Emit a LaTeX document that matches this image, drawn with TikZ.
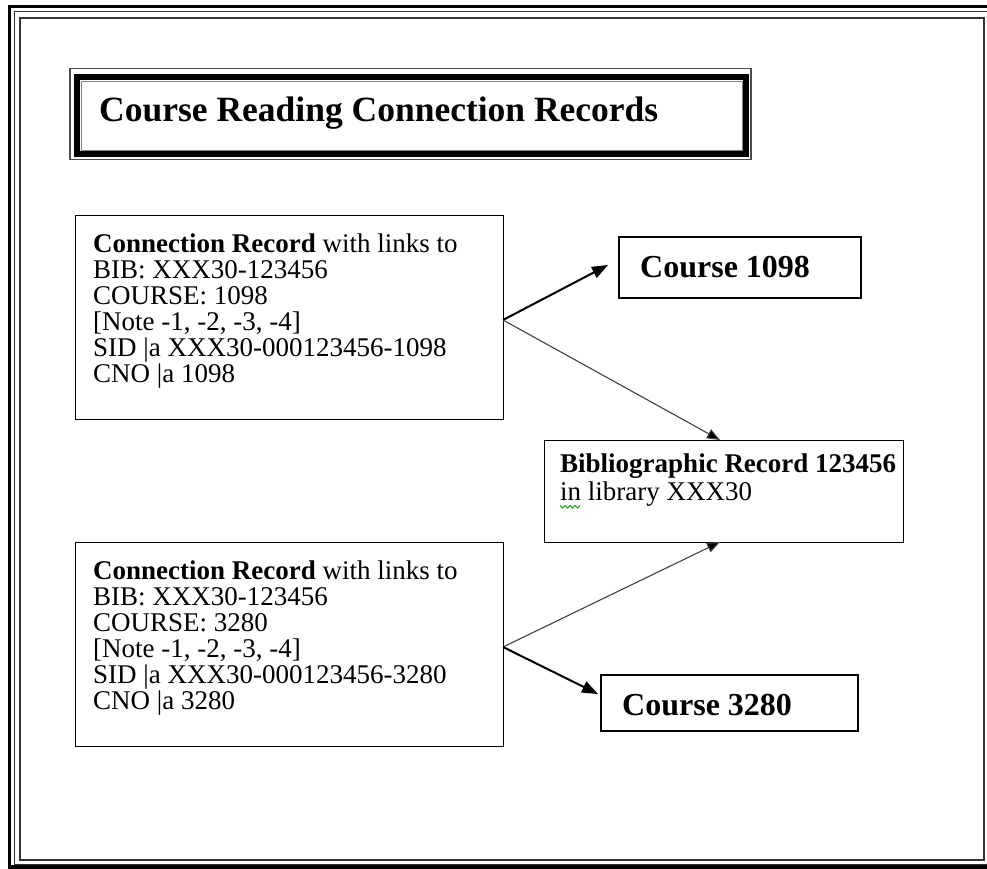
\documentclass[tikz,border=0pt]{standalone}
\usepackage{fontspec}
\setmainfont{Liberation Serif}
\usetikzlibrary{arrows.meta}
\begin{document}
\begin{tikzpicture}[x=1pt,y=-1pt,
  rec/.style={draw=black, line width=1.3pt, inner sep=0pt, anchor=north west},
  body/.style={anchor=north west, inner sep=0pt, align=left, font=\fontsize{27}{26}\selectfont},
  crs/.style={anchor=base west, inner sep=0pt, font=\fontsize{32}{32}\selectfont\bfseries},
  strong/.style={line width=2pt, -{Triangle[length=16pt,width=12pt]}},
  soft/.style={draw=black!75, line width=1.1pt, -{Triangle[length=13pt,width=10pt,fill=black]}},
]
\useasboundingbox (0,0) rectangle (987,868);
\fill[white] (0,0) rectangle (987,868);
% outer frame
\draw[line width=3.5pt] (9.5,6.5) rectangle (995,867);
\draw[line width=1.3pt, black!80] (14.5,11.5) rectangle (990,864.5);
\draw[line width=1.6pt, black!80] (20,18) rectangle (984,860);
% title frame
\draw[line width=1.2pt, black!70] (70,68.5) rectangle (751,159.5);
\draw[line width=6.5pt] (77,77) rectangle (746,154);
\draw[line width=0.8pt, black!50] (81,81) rectangle (742,150);
\node[anchor=base west, inner sep=0pt, font=\fontsize{35.5}{35.5}\selectfont\bfseries] (title) at (99,121) {Course Reading Connection Records};
% connection record 1
\node[rec, minimum width=428pt, minimum height=204pt] (b1) at (75,215) {};
\node[body] (b1t) at (93,233.5) {\textbf{Connection Record} with links to\\BIB: XXX30-123456\\COURSE: 1098\\{[Note -1, -2, -3, -4]}\\SID |a XXX30-000123456-1098\\CNO |a 1098};
% course 1098
\node[rec, line width=1.8pt, minimum width=242pt, minimum height=61pt] (c1) at (618,236) {};
\node[crs] (c1t) at (640,277) {Course 1098};
% bibliographic record
\node[rec, minimum width=359pt, minimum height=102pt] (bib) at (544,440) {};
\node[anchor=base west, inner sep=0pt, font=\fontsize{27}{27}\selectfont\bfseries] (bibt) at (560,472) {Bibliographic Record 123456};
\node[anchor=base west, inner sep=0pt, font=\fontsize{27}{27}\selectfont] (bibl) at (560,500) {in library XXX30};
\draw[green!60!black, line width=0.8pt] (560,505.5) \foreach \i in {1,...,4} { -- ++(2.5,2.5) -- ++(2.5,-2.5) };
% connection record 2
\node[rec, minimum width=428pt, minimum height=204pt] (b3) at (75,542) {};
\node[body] (b3t) at (93,560.5) {\textbf{Connection Record} with links to\\BIB: XXX30-123456\\COURSE: 3280\\{[Note -1, -2, -3, -4]}\\SID |a XXX30-000123456-3280\\CNO |a 3280};
% course 3280
\node[rec, line width=1.8pt, minimum width=257pt, minimum height=56pt] (c2) at (600,674) {};
\node[crs] (c2t) at (622,715) {Course 3280};
% connectors
\coordinate (j1) at (503,320);
\coordinate (j2) at (503,647);
\coordinate (a1) at (608,265);
\coordinate (a2) at (720,440);
\coordinate (a3) at (720,542);
\coordinate (a4) at (598,694);
\draw[strong] (j1) -- (a1);
\draw[soft] (j1) -- (a2);
\draw[soft] (j2) -- (a3);
\draw[strong] (j2) -- (a4);
\end{tikzpicture}
\end{document}
